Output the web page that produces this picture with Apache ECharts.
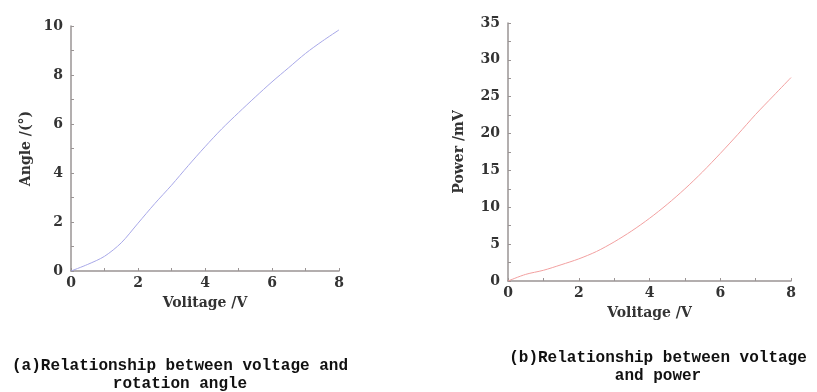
<!DOCTYPE html>
<html><head><meta charset="utf-8">
<script src="https://cdn.jsdelivr.net/npm/echarts@6/dist/echarts.min.js"></script>
<style>html,body{margin:0;padding:0;background:#fff}#c{width:817px;height:392px}</style>
</head><body><div id="c"></div>
<script>
const voltageA = [0, 0.5, 1, 1.5, 2, 2.5, 3, 3.5, 4, 4.5, 5, 5.5, 6, 6.5, 7, 7.5, 8];
const angle    = [0, 0.27, 0.6, 1.15, 1.95, 2.75, 3.5, 4.3, 5.07, 5.8, 6.46, 7.1, 7.72, 8.3, 8.88, 9.38, 9.84];
const voltageB = [0, 0.5, 1, 1.5, 2, 2.5, 3, 3.5, 4, 4.5, 5, 5.5, 6, 6.5, 7, 7.5, 8];
const power    = [0, 0.9, 1.45, 2.2, 3.0, 4.0, 5.3, 6.8, 8.5, 10.4, 12.5, 14.8, 17.3, 19.9, 22.6, 25.1, 27.6];
const xTicks = [0, 2, 4, 6, 8];
const captionA = ['(a)Relationship between voltage and', 'rotation angle'];
const captionB = ['(b)Relationship between voltage', 'and power'];

const axisColor = '#9a9494';
const labelFont = {fontFamily: 'DejaVu Serif', fontWeight: 'bold', fontSize: 14, color: '#333'};
const nameFont = {fontFamily: 'DejaVu Serif', fontWeight: 'bold', fontSize: 14, color: '#333'};
function xAxisCfg(gi) {
  return {
    gridIndex: gi, type: 'value', min: 0, max: 8, interval: 2,
    name: 'Volitage /V', nameLocation: 'middle', nameGap: 25,
    nameTextStyle: nameFont,
    axisLine: {lineStyle: {color: axisColor, width: 1.5}},
    axisTick: {show: true, inside: true, length: 3, lineStyle: {color: axisColor}},
    minorTick: {show: true, splitNumber: 2, length: 3, lineStyle: {color: axisColor}},
    axisLabel: Object.assign({margin: 5, formatter: v => xTicks.includes(v) ? String(v) : ''}, labelFont),
    splitLine: {show: false}
  };
}
function yAxisCfg(gi, max, interval, name, gap) {
  return {
    gridIndex: gi, type: 'value', min: 0, max: max, interval: interval,
    name: name, nameLocation: 'middle', nameGap: gap, nameRotate: 90,
    nameTextStyle: nameFont,
    axisLine: {show: true, lineStyle: {color: axisColor, width: 1.5}},
    axisTick: {show: true, inside: true, length: 3, lineStyle: {color: axisColor}},
    minorTick: {show: true, splitNumber: 2, length: 3, lineStyle: {color: axisColor}},
    axisLabel: Object.assign({margin: 8}, labelFont),
    splitLine: {show: false}
  };
}
const chart = echarts.init(document.getElementById('c'), null, {renderer: 'canvas'});
const capStyle = {fontFamily: 'Liberation Mono', fontWeight: 'bold', fontSize: 16, fill: '#111', textAlign: 'center', lineHeight: 18};
chart.setOption({
  animation: false,
  grid: [
    {left: 71, top: 26, width: 268, height: 245},
    {left: 508, top: 23, width: 283, height: 258}
  ],
  xAxis: [xAxisCfg(0), xAxisCfg(1)],
  yAxis: [yAxisCfg(0, 10, 2, 'Angle /(°)', 38), yAxisCfg(1, 35, 5, 'Power /mV', 42)],
  series: [
    {type: 'line', xAxisIndex: 0, yAxisIndex: 0, smooth: 0.3, showSymbol: false,
     lineStyle: {color: '#a8a8e8', width: 1}, data: voltageA.map((v, i) => [v, angle[i]])},
    {type: 'line', xAxisIndex: 1, yAxisIndex: 1, smooth: 0.3, showSymbol: false,
     lineStyle: {color: '#f2a0a0', width: 1}, data: voltageB.map((v, i) => [v, power[i]])}
  ],
  graphic: [
    {type: 'text', left: 180 - 175, top: 357, style: Object.assign({text: captionA.join('\n'), width: 350}, capStyle)},
    {type: 'text', left: 658 - 160, top: 349, style: Object.assign({text: captionB.join('\n'), width: 320}, capStyle)}
  ]
});
</script></body></html>
